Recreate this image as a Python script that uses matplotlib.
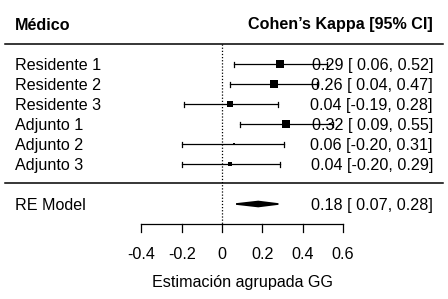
import matplotlib
matplotlib.use('Agg')
import matplotlib.pyplot as plt
from matplotlib.patches import Polygon

plt.rcParams['font.family'] = ['Liberation Sans', 'DejaVu Sans']

# data
labels = ['Residente 1', 'Residente 2', 'Residente 3', 'Adjunto 1', 'Adjunto 2', 'Adjunto 3']
est = [0.29, 0.26, 0.04, 0.32, 0.06, 0.04]
ci_lo = [0.06, 0.04, -0.19, 0.09, -0.20, -0.20]
ci_hi = [0.52, 0.47, 0.28, 0.55, 0.31, 0.29]
weights = [19, 23, 16, 21, 8, 13]
re_est, re_lo, re_hi = 0.18, 0.07, 0.28
xticks = [-0.4, -0.2, 0, 0.2, 0.4, 0.6]
xticklabels = ['-0.4', '-0.2', '0', '0.2', '0.4', '0.6']

W, H = 448, 299
x0px = 222.0      # pixel of x = 0
scale = 201.3     # pixels per unit

def X(px):
    return (px - x0px) / scale

fig = plt.figure(figsize=(W / 100, H / 100), dpi=100)
ax = fig.add_axes([0, 0, 1, 1])
ax.set_xlim(X(0), X(W))
ax.set_ylim(H, 0)
ax.axis('off')

fs = 11.6
row_y = [64, 84, 104, 124, 144, 164]
re_y = 204
lbl_x = X(15)
ann_x = X(433)

# header and separators
ax.text(lbl_x, 25, 'Médico', fontsize=fs, fontweight='bold', va='center', ha='left')
ax.text(ann_x, 25, 'Cohen\u2019s Kappa [95% CI]', fontsize=fs, fontweight='bold', va='center', ha='right')
ax.plot([X(5), X(443)], [44, 44], color='black', lw=1.1)
ax.plot([X(5), X(443)], [183, 183], color='black', lw=1.1)

# reference line at 0
ax.plot([0, 0], [44, 224], color='black', lw=0.9, ls=(0, (1, 1.5)))

# studies
wmax = max(weights)
for y, lab, e, lo, hi, w in zip(row_y, labels, est, ci_lo, ci_hi, weights):
    ax.plot([lo, hi], [y, y], color='black', lw=0.9)
    ax.plot([lo, lo], [y - 2.5, y + 2.5], color='black', lw=0.9)
    ax.plot([hi, hi], [y - 2.5, y + 2.5], color='black', lw=0.9)
    side = 8.6 * w / wmax * 0.72
    ax.plot([e], [y], marker='s', ms=side, color='black', mec='black', mew=0)
    ax.text(lbl_x, y, lab, fontsize=fs, va='center_baseline', ha='left')
    ax.text(ann_x, y, f'{e:.2f} [{lo:5.2f}, {hi:.2f}]', fontsize=fs,
            va='center_baseline', ha='right')

# RE model diamond
ax.add_patch(Polygon([(re_lo, re_y), (re_est, re_y - 2.5), (re_hi, re_y), (re_est, re_y + 2.5)],
                     closed=True, facecolor='black', edgecolor='black', lw=1.2))
ax.text(lbl_x, re_y, 'RE Model', fontsize=fs, va='center_baseline', ha='left')
ax.text(ann_x, re_y, f'{re_est:.2f} [{re_lo:5.2f}, {re_hi:.2f}]', fontsize=fs,
        va='center_baseline', ha='right')

# x axis
ax_y = 224
ax.plot([xticks[0], xticks[-1]], [ax_y, ax_y], color='black', lw=0.9)
for t, tl in zip(xticks, xticklabels):
    ax.plot([t, t], [ax_y, ax_y + 8], color='black', lw=0.9)
    ax.text(t, 253, tl, fontsize=fs, va='center_baseline', ha='center')
ax.text((xticks[0] + xticks[-1]) / 2, 281, 'Estimación agrupada GG', fontsize=fs,
        va='center_baseline', ha='center')

fig.savefig('out.png', dpi=100)
